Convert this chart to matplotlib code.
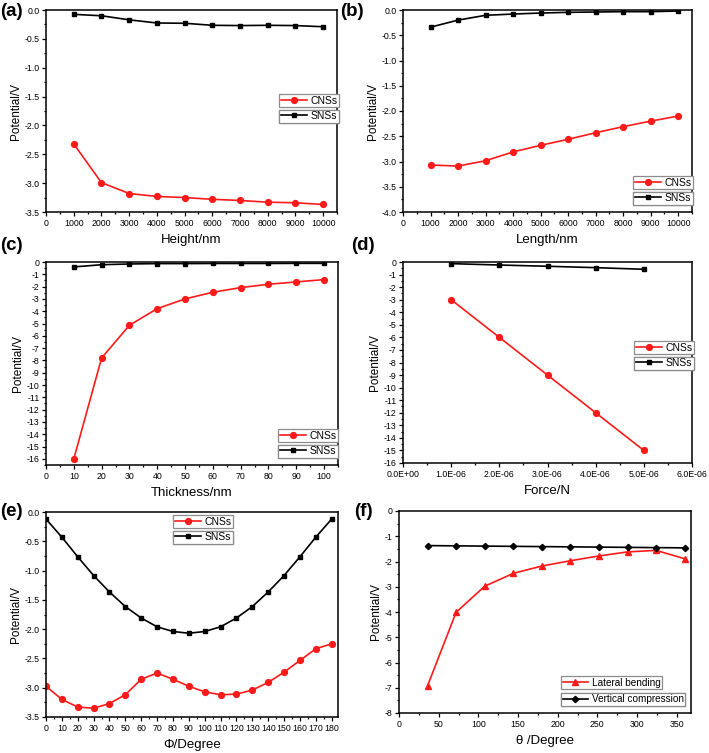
import numpy as np
import matplotlib
matplotlib.use('Agg')
import matplotlib.pyplot as plt
from matplotlib.ticker import MultipleLocator, FuncFormatter

plt.rcParams['font.family'] = ['Liberation Sans', 'DejaVu Sans']
plt.rcParams['axes.unicode_minus'] = False

RED = '#ff1a1a'
W, H = 709, 753

# (a) height
height_nm = [1000, 2000, 3000, 4000, 5000, 6000, 7000, 8000, 9000, 10000]
height_cns = [-2.32, -2.99, -3.18, -3.23, -3.25, -3.28, -3.30, -3.33, -3.34, -3.37]
height_sns = [-0.075, -0.10, -0.17, -0.225, -0.23, -0.265, -0.27, -0.265, -0.27, -0.29]

# (b) length
length_nm = [1000, 2000, 3000, 4000, 5000, 6000, 7000, 8000, 9000, 10000]
length_cns = [-3.07, -3.09, -2.985, -2.81, -2.68, -2.56, -2.43, -2.31, -2.20, -2.10]
length_sns = [-0.34, -0.20, -0.105, -0.08, -0.06, -0.046, -0.04, -0.033, -0.033, -0.02]

# (c) thickness
thick_nm = [10, 20, 30, 40, 50, 60, 70, 80, 90, 100]
thick_cns = [-16.0, -7.8, -5.14, -3.79, -3.0, -2.46, -2.08, -1.81, -1.62, -1.43]
thick_sns = [-0.40, -0.22, -0.16, -0.13, -0.13, -0.12, -0.12, -0.12, -0.11, -0.11]

# (d) force
force_n = [1e-6, 2e-6, 3e-6, 4e-6, 5e-6]
force_cns = [-3.0, -6.0, -9.0, -12.0, -15.0]
force_sns = [-0.13, -0.24, -0.34, -0.45, -0.58]

# (e) phi angle
phi_deg = [0, 10, 20, 30, 40, 50, 60, 70, 80, 90, 100, 110, 120, 130, 140, 150, 160, 170, 180]
phi_cns = [-2.975, -3.20, -3.33, -3.35, -3.27, -3.12, -2.855, -2.75, -2.855, -2.975,
           -3.07, -3.12, -3.11, -3.04, -2.91, -2.735, -2.535, -2.335, -2.25]
phi_sns = [-0.12, -0.43, -0.765, -1.085, -1.365, -1.615, -1.81, -1.96, -2.04, -2.07,
           -2.04, -1.96, -1.81, -1.615, -1.365, -1.085, -0.765, -0.43, -0.12]

# (f) theta angle
theta_deg = [36, 72, 108, 144, 180, 216, 252, 288, 324, 360]
theta_lateral = [-6.92, -4.01, -2.98, -2.47, -2.18, -1.97, -1.78, -1.62, -1.56, -1.89]
theta_vertical = [-1.37, -1.38, -1.39, -1.40, -1.41, -1.42, -1.43, -1.44, -1.45, -1.46]

fig = plt.figure(figsize=(W / 100, H / 100), dpi=100)


def make_axes(l, t, r, b):
    ax = fig.add_axes([l / W, 1 - b / H, (r - l) / W, (b - t) / H])
    for s in ax.spines.values():
        s.set_linewidth(1.1)
    ax.tick_params(which='both', direction='out', top=False, right=False,
                   labelsize=6.3, width=0.9, pad=1.5)
    ax.tick_params(which='major', length=3.2)
    ax.tick_params(which='minor', length=1.7)
    return ax


def boxed_legend(ax, lines, labels, x, y, step=15.5, size=7.5):
    # Origin-style: every entry in its own little box
    for i, (ln, lab) in enumerate(zip(lines, labels)):
        leg = ax.legend([ln], [lab], loc='upper left',
                        bbox_to_anchor=(x / W, 1 - (y + i * step) / H),
                        bbox_transform=fig.transFigure, borderaxespad=0,
                        fontsize=size, fancybox=False, framealpha=1,
                        edgecolor='#8c8c8c', handlelength=2.5,
                        handletextpad=0.4, borderpad=0.15)
        leg.get_frame().set_linewidth(0.9)
        ax.add_artist(leg)


def fmt(f):
    return FuncFormatter(lambda v, p: f.format(v))


def style(ax, xlabel, xlim, xmaj, xmin, ylim, ymaj, ymin, yfmt, xfmt='{:.0f}'):
    ax.set_xlim(*xlim)
    ax.set_ylim(*ylim)
    ax.xaxis.set_major_locator(MultipleLocator(xmaj))
    ax.xaxis.set_minor_locator(MultipleLocator(xmin))
    ax.yaxis.set_major_locator(MultipleLocator(ymaj))
    ax.yaxis.set_minor_locator(MultipleLocator(ymin))
    ax.xaxis.set_major_formatter(fmt(xfmt))
    ax.yaxis.set_major_formatter(fmt(yfmt))
    ax.set_xlabel(xlabel, fontsize=9.5, labelpad=5)
    ax.set_ylabel('Potential/V', fontsize=8.5, labelpad=2)


kw_c = dict(color=RED, marker='o', markersize=4.2, lw=1.2)
kw_s = dict(color='black', marker='s', markersize=3.5, lw=1.2)

# (a)
ax = make_axes(46, 10, 337, 212)
l1, = ax.plot(height_nm, height_cns, **kw_c)
l2, = ax.plot(height_nm, height_sns, **kw_s)
style(ax, 'Height/nm', (0, 10500), 1000, 500, (-3.5, 0), 0.5, 0.25, '{:.1f}')
boxed_legend(ax, [l1, l2], ['CNSs', 'SNSs'], 279, 94)

# (b)
ax = make_axes(403, 10, 692, 212)
l1, = ax.plot(length_nm, length_cns, **kw_c)
l2, = ax.plot(length_nm, length_sns, **kw_s)
style(ax, 'Length/nm', (0, 10500), 1000, 500, (-4.0, 0), 0.5, 0.25, '{:.1f}')
boxed_legend(ax, [l1, l2], ['CNSs', 'SNSs'], 633, 176)

# (c)
ax = make_axes(46, 262, 338, 465)
l1, = ax.plot(thick_nm, thick_cns, **kw_c)
l2, = ax.plot(thick_nm, thick_sns, **kw_s)
style(ax, 'Thickness/nm', (0, 105), 10, 5, (-16.5, 0), 1, 0.5, '{:.0f}')
boxed_legend(ax, [l1, l2], ['CNSs', 'SNSs'], 278, 429)

# (d)
ax = make_axes(403, 262, 692, 463)
l1, = ax.plot(force_n, force_cns, **kw_c)
l2, = ax.plot(force_n, force_sns, **kw_s)
style(ax, 'Force/N', (0, 6e-6), 1e-6, 0.5e-6, (-16, 0), 1, 0.5, '{:.0f}', xfmt='{:.1E}')
boxed_legend(ax, [l1, l2], ['CNSs', 'SNSs'], 634, 341)

# (e)
ax = make_axes(46, 512, 338, 717)
l1, = ax.plot(phi_deg, phi_cns, **kw_c)
l2, = ax.plot(phi_deg, phi_sns, **kw_s)
style(ax, 'Φ/Degree', (0, 184), 10, 5, (-3.5, 0), 0.5, 0.25, '{:.1f}')
boxed_legend(ax, [l1, l2], ['CNSs', 'SNSs'], 173, 515)

# (f)
ax = make_axes(399, 511, 691, 713)
l1, = ax.plot(theta_deg, theta_lateral, color=RED, marker='^', markersize=4.2, lw=1.2)
l2, = ax.plot(theta_deg, theta_vertical, color='black', marker='D', markersize=3.2, lw=1.2)
style(ax, 'θ /Degree', (0, 368), 50, 25, (-8, 0), 1, 0.5, '{:.0f}')
boxed_legend(ax, [l1, l2], ['Lateral bending', 'Vertical compression'], 561, 676,
             step=17, size=7.2)

# panel letters
for lab, x, y in [('(a)', 0, 12), ('(b)', 340, 12), ('(c)', 0, 246),
                  ('(d)', 351, 246), ('(e)', 0, 511), ('(f)', 354, 511)]:
    fig.text(x / W, 1 - y / H, lab, fontsize=13.5, fontweight='bold',
             ha='left', va='center')

fig.savefig('out.png', dpi=100)
